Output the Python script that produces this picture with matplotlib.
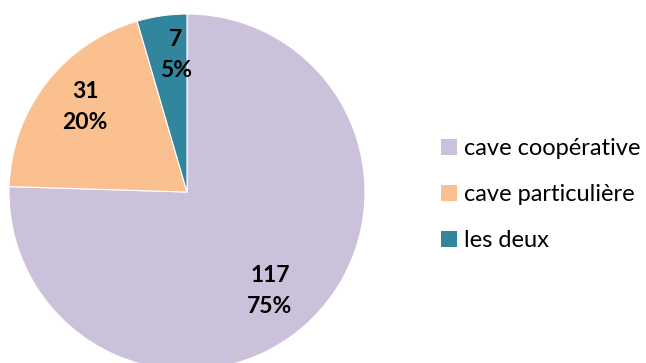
import numpy as np
import matplotlib
matplotlib.use("Agg")
import matplotlib.pyplot as plt

categories = ["cave coopérative", "cave particulière", "les deux"]
counts = [117, 31, 7]
colors = ["#CCC1DA", "#FAC090", "#31859C"]

# label placement: distance from centre (fraction of radius) and angular nudge
label_radius = [0.726, 0.746, 0.772]
label_turn = [-4.2, -2.1, -3.5]

W, H = 646, 363
fig = plt.figure(figsize=(W / 100, H / 100), dpi=100)
plt.rcParams["font.family"] = ["Lato", "DejaVu Sans"]

# pie centre and radius in pixels
cx, cy, r = 187, 363 - 192, 178
ax = fig.add_axes([(cx - r) / W, (cy - r) / H, 2 * r / W, 2 * r / H])
wedges, _ = ax.pie(counts, colors=colors, startangle=90, counterclock=False,
                   radius=1.0, wedgeprops=dict(linewidth=0.8, edgecolor="white"))
ax.set_xlim(-1, 1)
ax.set_ylim(-1, 1)
ax.set_aspect("equal")
ax.axis("off")

total = sum(counts)
for w, n, lr, lt in zip(wedges, counts, label_radius, label_turn):
    mid = np.deg2rad((w.theta1 + w.theta2) / 2 + lt)
    pct = round(100 * n / total)
    ax.text(lr * np.cos(mid), lr * np.sin(mid), f"{n}\n{pct}%",
            ha="center", va="center", fontsize=16.5, fontweight="bold",
            linespacing=1.6, color="black")

leg = fig.legend(wedges, categories, loc="upper left",
                 bbox_to_anchor=(420 / W, 1 - 117 / H), frameon=False,
                 fontsize=17, handlelength=0.65, handleheight=0.65,
                 handletextpad=0.3, labelspacing=1.06)
for h in leg.legend_handles:
    h.set_edgecolor("none")

fig.savefig("out.png", dpi=100)
